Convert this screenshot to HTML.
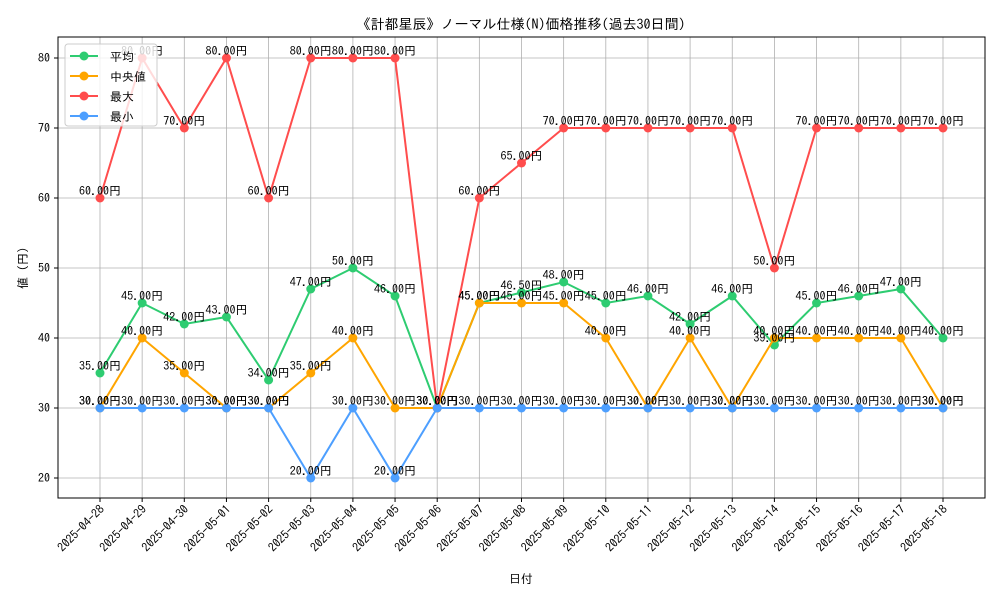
<!DOCTYPE html>
<html><head><meta charset="utf-8"><style>
body{margin:0;background:#fff}
svg{font-family:"IPAGothic","Noto Sans CJK JP",sans-serif}
</style></head><body>
<svg id="c" width="1000" height="600"></svg>
<script>
const dates=["2025-04-28","2025-04-29","2025-04-30","2025-05-01","2025-05-02","2025-05-03","2025-05-04","2025-05-05","2025-05-06","2025-05-07","2025-05-08","2025-05-09","2025-05-10","2025-05-11","2025-05-12","2025-05-13","2025-05-14","2025-05-15","2025-05-16","2025-05-17","2025-05-18"];
const avgVals=[35,45,42,43,34,47,50,46,30,45,46.5,48,45,46,42,46,39,45,46,47,40];
const medVals=[30,40,35,30,30,35,40,30,30,45,45,45,40,30,40,30,40,40,40,40,30];
const maxVals=[60,80,70,80,60,80,80,80,30,60,65,70,70,70,70,70,50,70,70,70,70];
const minVals=[30,30,30,30,30,20,30,20,30,30,30,30,30,30,30,30,30,30,30,30,30];
const yTicks=[20,30,40,50,60,70,80];
const seriesNames=["平均","中央値","最大","最小"];
const L=58,R=985,T=37,B=498;
const X=i=>100+i*(943-100)/(dates.length-1);
const Y=v=>478-(v-20)*7;
const svg=document.getElementById('c');const NS="http://www.w3.org/2000/svg";
function el(t,a,txt){const e=document.createElementNS(NS,t);for(const k in a)e.setAttribute(k,a[k]);if(txt!==undefined)e.textContent=txt;svg.appendChild(e);return e;}
dates.forEach((d,i)=>{
const g=el('line',{x1:X(i),x2:X(i),y1:T,y2:B,stroke:'#b0b0b0','stroke-width':0.8});


el('line',{x1:X(i),x2:X(i),y1:B,y2:B+4,stroke:'#000'});
const t=el('text',{x:0,y:0,'font-size':12,'text-anchor':'end',transform:`translate(${X(i)+5},${B+12}) rotate(-45)`},d);


});
yTicks.forEach(v=>{
const g=el('line',{x1:L,x2:R,y1:Y(v),y2:Y(v),stroke:'#b0b0b0','stroke-width':0.8});


el('line',{x1:L-4,x2:L,y1:Y(v),y2:Y(v),stroke:'#000'});
const t=el('text',{x:L-8,y:Y(v)+4,'font-size':12,'text-anchor':'end'},String(v));


});
const series=[[avgVals,'#2ecc71','avg'],[medVals,'#ffa500','median'],[maxVals,'#ff4d4d','max'],[minVals,'#4d9fff','min']];
series.forEach(([vals,col,nm])=>{
const p=el('polyline',{points:vals.map((v,i)=>X(i)+','+Y(v)).join(' '),fill:'none',stroke:col,'stroke-width':2});


vals.forEach((v,i)=>{
const c=el('circle',{cx:X(i),cy:Y(v),r:4.5,fill:col});


});
});
series.forEach(([vals,col,nm])=>{
vals.forEach((v,i)=>{
const t=el('text',{x:X(i),y:Y(v)-3,'font-size':12,'text-anchor':'middle',fill:'#000'},v.toFixed(2)+'円');


});
});
const fr=el('rect',{x:L,y:T,width:R-L,height:B-T,fill:'none',stroke:'#000','stroke-width':1});


const ti=el('text',{x:521,y:29,'font-size':14,'text-anchor':'middle'},'《計都星辰》ノーマル仕様(N)価格推移(過去30日間)');


const xt=el('text',{x:521,y:583,'font-size':12,'text-anchor':'middle'},'日付');


const yt=el('text',{x:0,y:0,'font-size':12,'text-anchor':'middle',transform:'translate(27,268) rotate(-90)'},'値 (円)');


const lg=el('rect',{x:65,y:44,width:92,height:82,fill:'#fff','fill-opacity':0.8,stroke:'#ccc',rx:3});


series.forEach(([vals,col,nm],k)=>{
const y=56+k*20;
el('line',{x1:70,x2:98,y1:y,y2:y,stroke:col,'stroke-width':2});
el('circle',{cx:84,cy:y,r:4.5,fill:col});
const t=el('text',{x:110,y:y+5,'font-size':12},seriesNames[k]);


});
</script>
</body></html>
